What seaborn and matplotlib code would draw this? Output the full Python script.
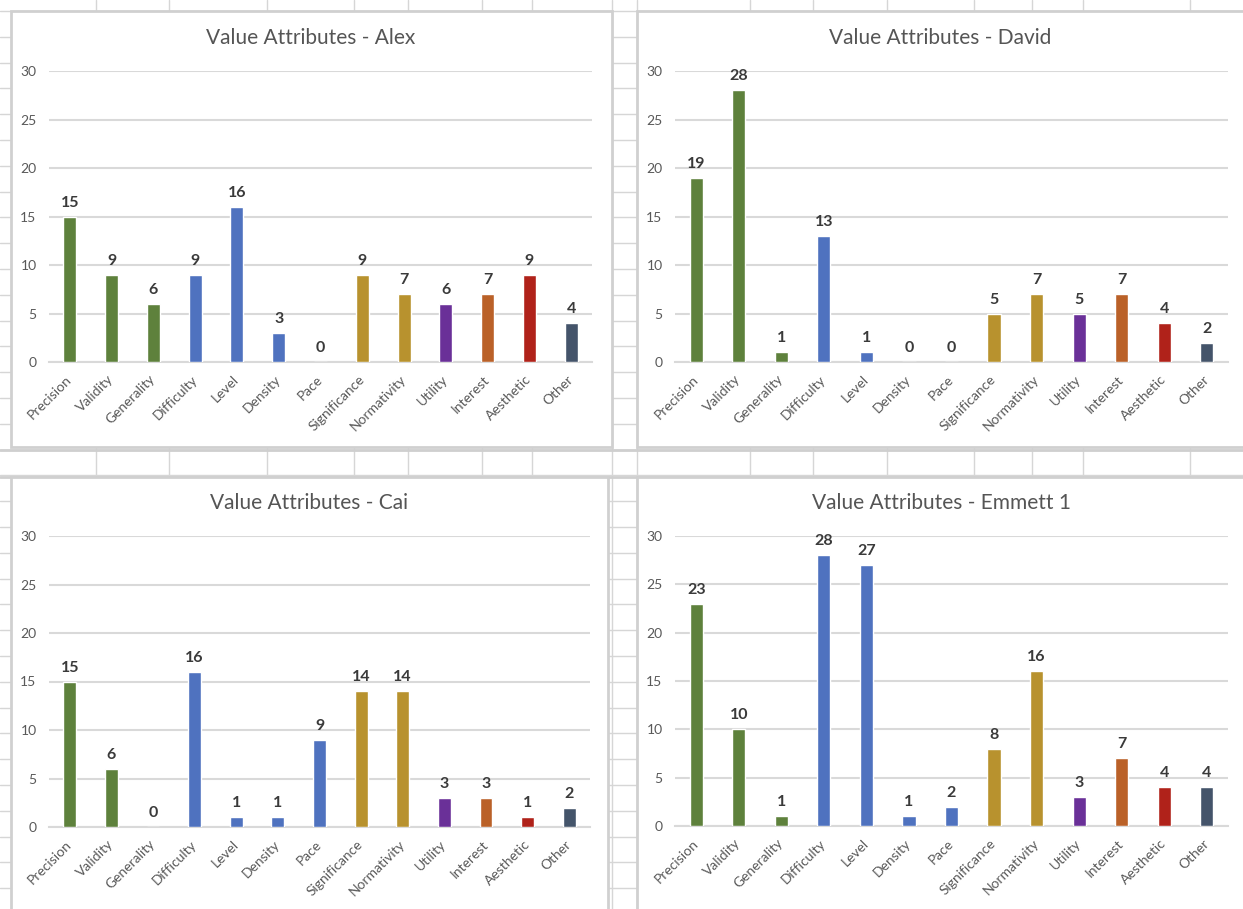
import matplotlib
matplotlib.use("Agg")
import matplotlib.pyplot as plt
from matplotlib.patches import Rectangle
import seaborn as sns
import pandas as pd

categories = ["Precision", "Validity", "Generality", "Difficulty", "Level", "Density",
              "Pace", "Significance", "Normativity", "Utility", "Interest", "Aesthetic", "Other"]
alex = [15, 9, 6, 9, 16, 3, 0, 9, 7, 6, 7, 9, 4]
david = [19, 28, 1, 13, 1, 0, 0, 5, 7, 5, 7, 4, 2]
cai = [15, 6, 0, 16, 1, 1, 9, 14, 14, 3, 3, 1, 2]
emmett = [23, 10, 1, 28, 27, 1, 2, 8, 16, 3, 7, 4, 4]
titles = ["Value Attributes - Alex", "Value Attributes - David",
          "Value Attributes - Cai", "Value Attributes - Emmett 1"]
yticks = [0, 5, 10, 15, 20, 25, 30]

GREEN, BLUE, GOLD = "#5E813C", "#4F72BF", "#B8922E"
PURPLE, ORANGE, RED, SLATE = "#6A3098", "#BA6128", "#B0221A", "#44546A"
bar_colors = [GREEN, GREEN, GREEN, BLUE, BLUE, BLUE, BLUE, GOLD, GOLD,
              PURPLE, ORANGE, RED, SLATE]
palette = dict(zip(categories, bar_colors))

sns.set_theme(style="white")
plt.rcParams["font.family"] = ["Lato", "DejaVu Sans"]

W, H = 1243, 909
fig = plt.figure(figsize=(W / 100, H / 100), dpi=100)
fig.patch.set_facecolor("white")

# spreadsheet background (pixel coordinates)
bg = fig.add_axes([0, 0, 1, 1], zorder=0)
bg.set_xlim(0, W)
bg.set_ylim(H, 0)
bg.axis("off")
GRID = "#d6d6d6"
cols = [96, 169, 267, 354, 408, 482, 532, 612, 637, 750, 813, 887, 974, 1032, 1083, 1190]
for cx in cols:
    bg.plot([cx, cx], [0, H], color=GRID, lw=1.0)
y = 11.0
while y < H:
    bg.plot([0, W], [y, y], color=GRID, lw=1.0)
    y += 25.8
bg.plot([0, W], [450, 450], color="#cfcfcf", lw=2.0)
bg.plot([0, W], [477, 477], color="#cfcfcf", lw=2.0)

panels = [(11, 11, 612, 447), (637, 11, 1250, 447),
          (11, 477, 608, 915), (637, 477, 1250, 915)]
for (x0, y0, x1, y1) in panels:
    bg.add_patch(Rectangle((x0, y0), x1 - x0, y1 - y0, facecolor="white",
                           edgecolor="#d0d0d0", lw=2.0, zorder=3))

# axes placements in pixels: (left, right, top(30), bottom(0))
axes_px = [(49, 592, 71, 362), (675, 1228, 71, 362),
           (49, 590, 536, 827), (675, 1228, 536, 826)]
title_px = [(311, 38), (940, 38), (309, 503), (941, 503)]
series = [alex, david, cai, emmett]

for vals, (l, r, t, b), title, (tx, ty) in zip(series, axes_px, titles, title_px):
    ax = fig.add_axes([l / W, 1 - b / H, (r - l) / W, (b - t) / H], zorder=5)
    ax.patch.set_alpha(0)
    df = pd.DataFrame({"cat": categories, "val": vals})
    sns.barplot(data=df, x="cat", y="val", hue="cat", order=categories,
                hue_order=categories, palette=palette, legend=False,
                width=0.31, saturation=1, ax=ax, zorder=3)
    for cont in ax.containers:
        ax.bar_label(cont, padding=5, fontsize=11.5, fontweight="bold", color="#3a3a3a")
    ax.set_ylim(0, 30)
    ax.set_xlim(-0.5, len(categories) - 0.5)
    ax.set_yticks(yticks)
    ax.yaxis.grid(True, color="#d9d9d9", lw=1.5)
    ax.set_axisbelow(True)
    for s in ["top", "right", "left"]:
        ax.spines[s].set_visible(False)
    ax.spines["bottom"].set_color("#d9d9d9")
    ax.spines["bottom"].set_linewidth(1.5)
    ax.set_xlabel("")
    ax.set_ylabel("")
    ax.tick_params(axis="y", length=0, pad=9, labelsize=10, labelcolor="#595959")
    ax.tick_params(axis="x", length=0, pad=11, labelsize=10, labelcolor="#595959")
    ax.set_xticks(range(len(categories)))
    ax.set_xticklabels(categories, rotation=45, ha="right", va="center",
                       rotation_mode="anchor")
    fig.text(tx / W, 1 - ty / H, title, ha="center", va="center",
             fontsize=15, color="#555555")

fig.savefig("out.png", dpi=100, facecolor="white")
